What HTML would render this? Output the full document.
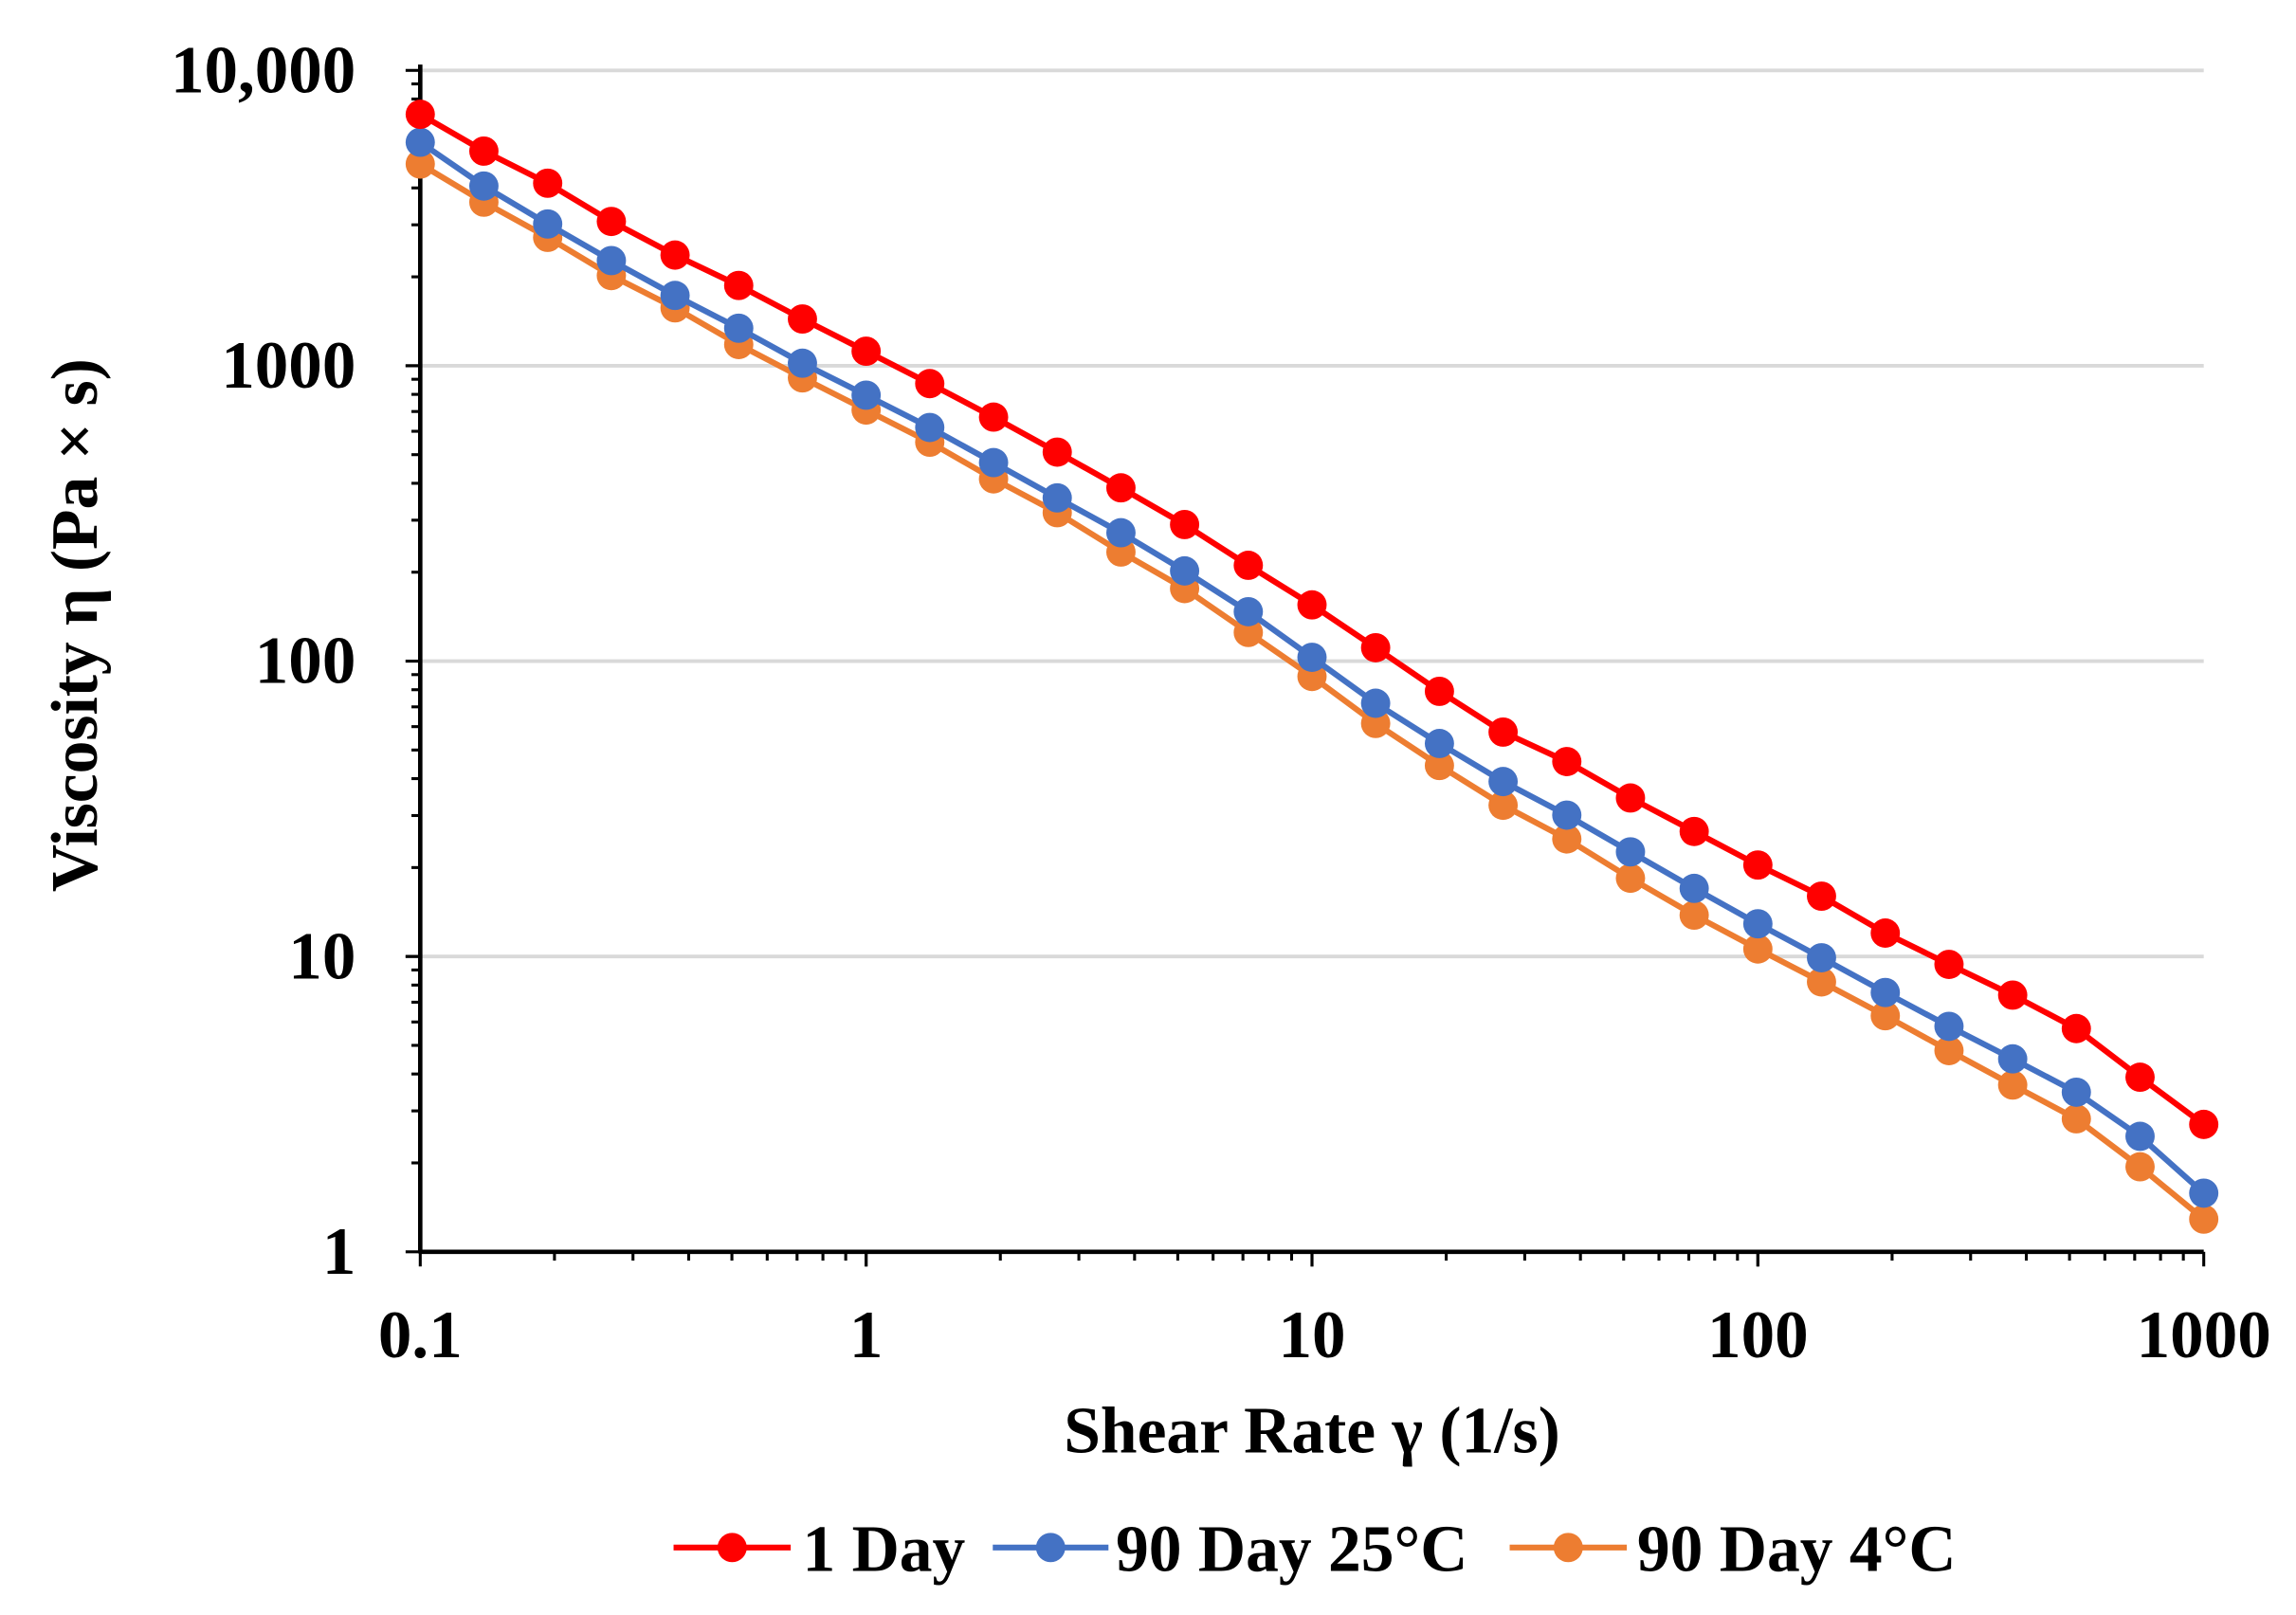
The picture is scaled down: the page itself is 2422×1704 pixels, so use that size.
<!DOCTYPE html>
<html><head><meta charset="utf-8"><style>
html,body{margin:0;padding:0;background:#fff;}
svg{display:block;}
text{font-family:"Liberation Serif",serif;font-weight:bold;fill:#000;}
</style></head><body>
<svg id="chart" width="2422" height="1704" viewBox="0 0 1568 1103" xmlns="http://www.w3.org/2000/svg">
<g id="grid"></g>
<g id="axes"></g>
<g id="series"></g>
<g id="labels"></g>
<text x="896" y="992" text-anchor="middle" font-size="45">Shear Rate γ (1/s)</text>
<text transform="translate(66,427) rotate(-90)" text-anchor="middle" font-size="45">Viscosity η (Pa × s)</text>
<g id="legend"></g>
</svg>
<script>
const shearRates = Array.from({length:29},(_, i)=>+(0.1*Math.pow(10,i/7)).toPrecision(4));
const day1 = [7100,5330,4150,3080,2370,1870,1440,1120,870,670,510,386,290,211,155,111,79,57.5,45.7,34.4,26.5,20.4,16,12,9.4,7.4,5.7,3.9,2.7];
const day90At25 = [5710,4060,3020,2270,1730,1340,1020,795,618,470,357,272,202,147,103,72,52.6,39.1,30.1,22.6,17,12.9,9.9,7.55,5.8,4.5,3.47,2.46,1.58];
const day90At4 = [4820,3580,2720,2020,1570,1180,910,708,551,414,318,234,176,125,88.7,61.5,44.3,32.5,25,18.4,13.8,10.6,8.2,6.3,4.8,3.67,2.82,1.94,1.29];
const xTicks = [0.1,1,10,100,1000];
const xTickLabels = ["0.1","1","10","100","1000"];
const yTicks = [1,10,100,1000,10000];
const yTickLabels = ["1","10","100","1000","10,000"];
const seriesNames = ["1 Day","90 Day 25°C","90 Day 4°C"];

const NS="http://www.w3.org/2000/svg";
const X0=287,X1=1505,Y0=855,Y1=48;
const xs=v=>X0+(Math.log10(v)+1)/4*(X1-X0);
const ys=v=>Y0-Math.log10(v)/4*(Y0-Y1);
function mk(tag,attrs,parent){const e=document.createElementNS(NS,tag);for(const k in attrs)e.setAttribute(k,attrs[k]);parent.appendChild(e);return e;}
const grid=document.getElementById('grid'),axes=document.getElementById('axes'),ser=document.getElementById('series'),lab=document.getElementById('labels'),leg=document.getElementById('legend');

yTicks.forEach((t,i)=>{
  if(i>0){const g=mk('line',{x1:X0,x2:X1,y1:ys(t),y2:ys(t),stroke:'#d9d9d9','stroke-width':2.5},grid);
  
  }
  const tx=mk('text',{x:243,y:ys(t)+15,'text-anchor':'end','font-size':46},lab);
  tx.textContent=yTickLabels[i];
  
  
});
xTicks.forEach((t,i)=>{
  const tx=mk('text',{x:xs(t),y:927,'text-anchor':'middle','font-size':46},lab);
  tx.textContent=xTickLabels[i];
  
  
});
for(let d=0;d<4;d++){for(let m=1;m<=10;m++){
  const vy=Math.pow(10,d)*m, vx=0.1*Math.pow(10,d)*m;
  const major=(m===1||m===10);
  const l=major?10:6;
  mk('line',{x1:X0-l,x2:X0,y1:ys(vy),y2:ys(vy),stroke:'#000','stroke-width':2},axes);
  mk('line',{x1:xs(vx),x2:xs(vx),y1:Y0,y2:Y0+l,stroke:'#000','stroke-width':2},axes);
}}
const ya=mk('line',{x1:X0,x2:X0,y1:Y1-4,y2:Y0+1,stroke:'#000','stroke-width':3},axes);


const xa=mk('line',{x1:X0-1,x2:X1,y1:Y0,y2:Y0,stroke:'#000','stroke-width':3},axes);



const colors=['#ff0000','#4472c4','#ed7d31'];
const data=[day1,day90At25,day90At4];
[2,1,0].forEach(s=>{
  const g=mk('g',{},ser);
  
  
  const pts=data[s].map((v,i)=>xs(shearRates[i])+','+ys(v)).join(' ');
  const pl=mk('polyline',{points:pts,fill:'none',stroke:colors[s],'stroke-width':4},g);
  
  
  data[s].forEach((v,i)=>{
    const c=mk('circle',{cx:xs(shearRates[i]),cy:ys(v),r:10,fill:colors[s]},g);
    
    
  });
});
const legItems=[{x1:460,x2:540,tx:548},{x1:678,x2:757,tx:762},{x1:1031,x2:1111,tx:1118}];
legItems.forEach((it,s)=>{
  const g=mk('g',{},leg);
  
  
  mk('line',{x1:it.x1,x2:it.x2,y1:1057,y2:1057,stroke:colors[s],'stroke-width':4},g);
  mk('circle',{cx:(it.x1+it.x2)/2,cy:1057,r:10,fill:colors[s]},g);
  const t=mk('text',{x:it.tx,y:1073,'font-size':45},g);
  t.textContent=seriesNames[s];
});
</script>
</body></html>
